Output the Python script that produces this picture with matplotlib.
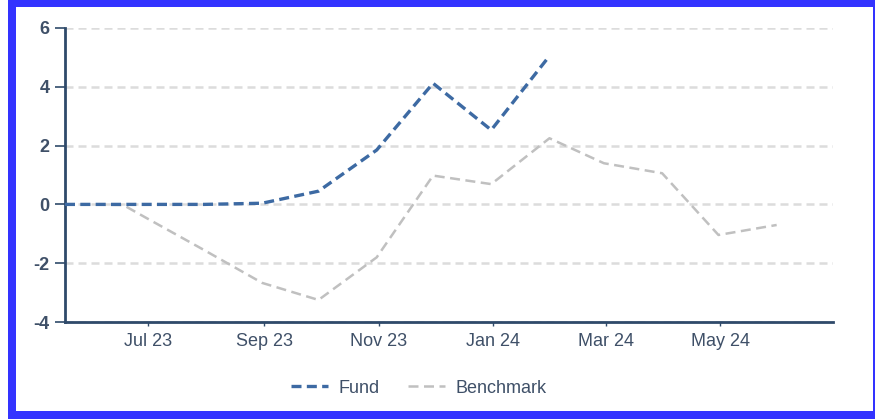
import matplotlib
matplotlib.use("Agg")
import matplotlib.pyplot as plt
import matplotlib.dates as mdates
from matplotlib.patches import Rectangle
import pandas as pd

plt.rcParams['font.family'] = ['Liberation Sans', 'DejaVu Sans']

dates = ["2023-05-18", "2023-06-18", "2023-06-30", "2023-07-31", "2023-08-31",
         "2023-09-30", "2023-10-31", "2023-11-30", "2023-12-31", "2024-01-31",
         "2024-02-29", "2024-03-31", "2024-04-30", "2024-05-31"]
fund = [0.0, 0.0, 0.0, 0.0, 0.04, 0.45, 1.85, 4.12, 2.53, 5.05,
        None, None, None, None]
benchmark = [0.0, -0.02, -0.45, -1.55, -2.67, -3.25, -1.8, 0.98, 0.69, 2.25,
             1.40, 1.06, -1.04, -0.70]
tick_dates = ["2023-07-01", "2023-09-01", "2023-11-01", "2024-01-01", "2024-03-01", "2024-05-01"]
tick_labels = ["Jul 23", "Sep 23", "Nov 23", "Jan 24", "Mar 24", "May 24"]
y_ticks = [-4, -2, 0, 2, 4, 6]

x = pd.to_datetime(dates)
fund_s = pd.Series(fund, index=x, dtype=float).dropna()

W, H = 875, 419
fig = plt.figure(figsize=(W / 100, H / 100), dpi=100)
# blue frame
fig.patches.append(Rectangle((8 / W, 0), (W - 8) / W, 1, transform=fig.transFigure,
                             facecolor="#3333ff", edgecolor="none", zorder=-10))
fig.patches.append(Rectangle((16 / W, 8 / H), (873 - 16) / W, (411 - 7) / H,
                             transform=fig.transFigure, facecolor="white",
                             edgecolor="none", zorder=-9))

ax = fig.add_axes([65 / W, (H - 322) / H, (833 - 65) / W, (322 - 28) / H])
ax.set_facecolor("none")

axis_col = "#2f4a6a"
label_col = "#3f5068"

for yv in y_ticks:
    ax.axhline(yv, color="#dcdcdc", lw=1.8, dashes=(3.2, 2.0), zorder=1)

ax.plot(x, benchmark, color="#c0c0c0", lw=1.8, dashes=(4.0, 2.2), zorder=2, label="Benchmark")
ax.plot(fund_s.index, fund_s.values, color="#3d6aa3", lw=2.4, dashes=(3.0, 1.6), zorder=3, label="Fund")

ax.set_xlim(pd.Timestamp("2023-05-18"), pd.Timestamp("2024-06-30"))
ax.set_ylim(-4, 6)
ax.set_yticks(y_ticks)
ax.set_yticklabels([str(v) for v in y_ticks], fontsize=13, fontweight="bold", color=label_col)
ax.set_xticks(pd.to_datetime(tick_dates))
ax.set_xticklabels(tick_labels, fontsize=13, color=label_col)

for s in ["top", "right"]:
    ax.spines[s].set_visible(False)
for s in ["left", "bottom"]:
    ax.spines[s].set_color(axis_col)
    ax.spines[s].set_linewidth(2)
ax.tick_params(axis="y", length=7, width=1.2, color=axis_col, pad=4)
ax.tick_params(axis="x", length=3, width=1, color=axis_col, pad=5)

handles, labels = ax.get_legend_handles_labels()
order = [1, 0]
leg = fig.legend([handles[i] for i in order], [labels[i] for i in order],
                 loc="center", bbox_to_anchor=(419 / W, (H - 388) / H), ncol=2,
                 frameon=False, fontsize=13, handlelength=2.0, columnspacing=1.6,
                 handletextpad=0.6)
for t in leg.get_texts():
    t.set_color(label_col)

fig.savefig("out.png", dpi=100)
